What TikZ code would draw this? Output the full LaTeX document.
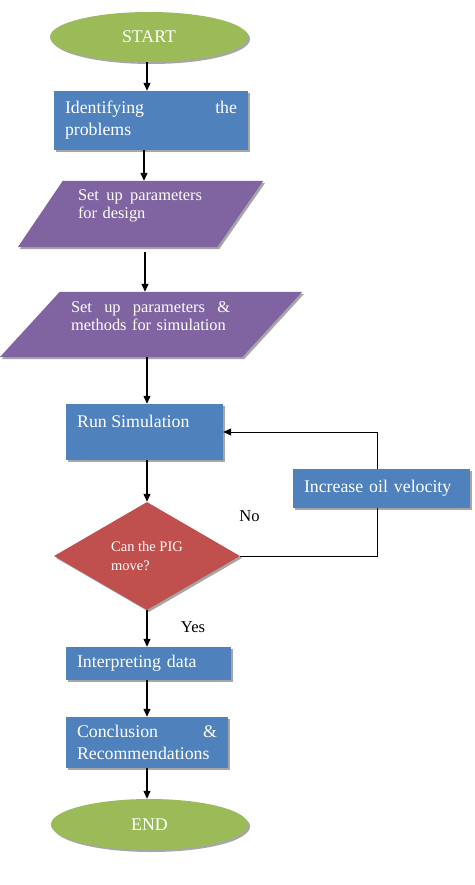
\documentclass[tikz,border=0pt]{standalone}
\usepackage{fontspec}
\setmainfont{Liberation Serif}
\usetikzlibrary{shapes.geometric,arrows.meta,shadows}
\definecolor{cgreen}{HTML}{9BBB59}
\definecolor{cblue}{HTML}{4F81BD}
\definecolor{cpurple}{HTML}{8064A2}
\definecolor{cred}{HTML}{C0504D}
\definecolor{cshadow}{HTML}{A6A6A6}
\begin{document}
\begin{tikzpicture}[x=1pt,y=-1pt,
  shd/.style={drop shadow={shadow xshift=2pt,shadow yshift=-2pt,fill=cshadow,opacity=1}},
  bigfont/.style={font=\fontsize{17.8}{22}\selectfont},
  term/.style={ellipse,fill=cgreen,inner sep=0pt,text=white,bigfont,shd},
  box/.style={rectangle,fill=cblue,inner xsep=11pt,inner ysep=0pt,text=white,bigfont,align=left,shd},
  frame/.style={rectangle,inner sep=0pt,draw=none},
  ptext/.style={inner sep=0pt,text=white,align=left,font=\fontsize{16.4}{18}\selectfont},
  dec/.style={diamond,fill=cred,inner sep=0pt,text=white,align=left,font=\fontsize{14.5}{19.5}\selectfont,shd},
  lbl/.style={inner sep=0pt,text=black,font=\fontsize{16.6}{20}\selectfont},
  arr/.style={line width=1.2pt,-{Triangle[length=8pt,width=7pt]}},
  link/.style={line width=0.9pt}
]
\useasboundingbox (0,0) rectangle (474,885);
\fill[white] (0,0) rectangle (474,885);

% axes for vertical connectors
\coordinate (ax) at (147,0);
\coordinate (axb) at (144,0);
\coordinate (axc) at (145,0);
\coordinate (lx) at (377,0);

% terminals and boxes
\node[term,minimum width=198pt,minimum height=50pt] (start) at (149,37) {START};
\node[box,minimum width=194pt,minimum height=59pt,text width=172pt] (ident) at (151,120.5) {Identifying\hfill the\\problems};

% parallelogram 1
\node[frame,minimum width=245pt,minimum height=66pt] (p1) at (140.5,214) {};
\fill[cshadow,transform canvas={shift={(2pt,-2pt)}}] (p1.south west) -- ([xshift=-46pt]p1.south east) -- (p1.north east) -- ([xshift=45pt]p1.north west) -- cycle;
\fill[cpurple] (p1.south west) -- ([xshift=-46pt]p1.south east) -- (p1.north east) -- ([xshift=45pt]p1.north west) -- cycle;
\node[ptext,text width=124pt] (p1t) at (140,206) {Set\hfill up\hfill parameters\\for design};

% parallelogram 2
\node[frame,minimum width=302pt,minimum height=65pt] (p2) at (151,324.5) {};
\fill[cshadow,transform canvas={shift={(2pt,-2pt)}}] (p2.south west) -- ([xshift=-60pt]p2.south east) -- (p2.north east) -- ([xshift=60pt]p2.north west) -- cycle;
\fill[cpurple] (p2.south west) -- ([xshift=-60pt]p2.south east) -- (p2.north east) -- ([xshift=60pt]p2.north west) -- cycle;
\node[ptext,text width=159pt] (p2t) at (150.5,316) {Set\hfill up\hfill parameters\hfill\&\\methods for simulation};

% run simulation
\node[box,minimum width=157pt,minimum height=56pt] (run) at (144.5,432) {};
\node[inner sep=0pt,text=white,bigfont,anchor=west] (runt) at (77,421) {Run Simulation};

% decision
\node[dec,minimum width=186pt,minimum height=108pt,aspect=1.72] (dia) at (147,556) {Can the PIG\\move?};

% increase oil velocity
\node[box,minimum width=177pt,minimum height=39pt,text width=155pt] (incr) at (381.5,488.5) {Increase oil velocity};

% lower boxes
\node[box,minimum width=165pt,minimum height=33pt,text width=143pt] (interp) at (148.5,663.5) {Interpreting data};
\node[box,minimum width=162pt,minimum height=51pt,text width=140pt] (concl) at (147,742.5) {Conclusion\hfill\&\\Recommendations};
\node[term,minimum width=197pt,minimum height=51pt] (end) at (149.5,824.5) {END};

% labels
\node[lbl] (no) at (249.5,516) {No};
\node[lbl] (yes) at (193,627) {Yes};

% connectors
\draw[arr] (start.south -| ax) -- (ident.north -| ax);
\draw[arr] (ident.south -| axb) -- (p1.north -| axb);
\draw[arr] ([yshift=-5pt]p1.south -| axc) -- (p2.north -| axc);
\draw[arr] (p2.south -| ax) -- (run.north -| ax);
\draw[arr] (run.south -| ax) -- (dia.north -| ax);
\draw[arr] (dia.south -| ax) -- (interp.north -| ax);
\draw[arr] (interp.south -| ax) -- (concl.north -| ax);
\draw[arr] (concl.south -| ax) -- (end.north -| ax);

% loop
\draw[link] (dia.east) -- (dia.east -| lx) -- (incr.south -| lx);
\draw[link,-{Triangle[length=8pt,width=7pt]}] (incr.north -| lx) |- (run.east);
\end{tikzpicture}
\end{document}
